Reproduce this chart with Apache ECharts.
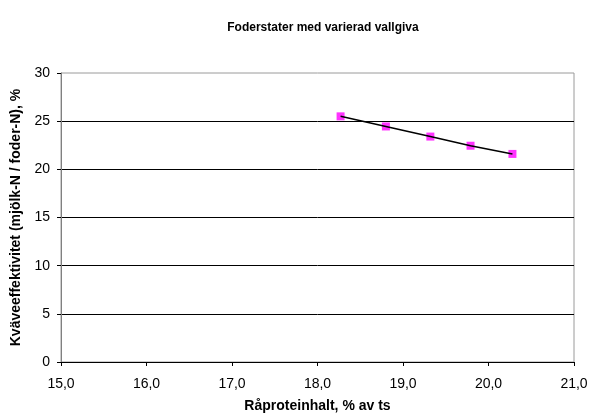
<!DOCTYPE html>
<html>
<head>
<meta charset="utf-8">
<script src="https://cdn.jsdelivr.net/npm/echarts@6/dist/echarts.min.js"></script>
<style>
  html, body { margin: 0; padding: 0; background: #fff; }
  #chart { width: 591px; height: 414px; }
</style>
</head>
<body>
<div id="chart"></div>
<script>
// Crude protein content (% of DM) and nitrogen efficiency (%)
const raprotein = [18.27, 18.80, 19.32, 19.79, 20.28];
const kvaveeffektivitet = [25.5, 24.45, 23.4, 22.45, 21.6];

const chartTitle = 'Foderstater med varierad vallgiva';
const xName = 'Råproteinhalt, % av ts';
const yName = 'Kväveeffektivitet (mjölk-N / foder-N), %';

const points = raprotein.map((x, i) => [x, kvaveeffektivitet[i]]);

const font = '"Liberation Sans", Arial, sans-serif';

const chart = echarts.init(document.getElementById('chart'), null, { renderer: 'canvas' });
chart.setOption({
  animation: false,
  backgroundColor: '#ffffff',
  title: {
    text: chartTitle,
    left: 318,
    textAlign: 'center',
    top: 17,
    textStyle: { fontFamily: font, fontSize: 12, fontWeight: 'bold', color: '#000' }
  },
  grid: {
    left: 61, right: 17, top: 73, bottom: 52,
    containLabel: false,
    outerBoundsMode: 'none',
    show: true, borderColor: '#9a9a9a', borderWidth: 1
  },
  xAxis: {
    type: 'value',
    min: 15, max: 21, interval: 1,
    name: xName,
    nameLocation: 'middle',
    nameGap: 37,
    nameTextStyle: { fontFamily: font, fontSize: 14, fontWeight: 'bold', color: '#000' },
    axisLine: { show: true, onZero: false, lineStyle: { color: '#000', width: 1 } },
    axisTick: { show: true, length: 4, inside: false, lineStyle: { color: '#000' } },
    axisLabel: {
      fontFamily: font, fontSize: 14, color: '#000', margin: 15,
      formatter: v => v.toFixed(1).replace('.', ',')
    },
    splitLine: { show: false }
  },
  yAxis: {
    type: 'value',
    min: 0, max: 30, interval: 5,
    name: yName,
    nameLocation: 'middle',
    nameGap: 37,
    nameTextStyle: { fontFamily: font, fontSize: 14, fontWeight: 'bold', color: '#000' },
    axisLine: { show: true, lineStyle: { color: '#808080', width: 1 } },
    axisTick: { show: true, length: 4, lineStyle: { color: '#000' } },
    axisLabel: { fontFamily: font, fontSize: 14, color: '#000', margin: 11 },
    splitLine: {
      show: true, showMinLine: false, showMaxLine: false,
      lineStyle: { color: '#000', width: 1 }
    }
  },
  series: [
    {
      name: 'punkter',
      type: 'scatter',
      data: points,
      symbol: 'rect',
      symbolSize: 8,
      itemStyle: { color: '#ff00ff' },
      z: 2
    },
    {
      name: 'linje',
      type: 'line',
      data: points,
      showSymbol: false,
      symbol: 'none',
      lineStyle: { color: '#000', width: 1.5 },
      z: 3
    }
  ]
});
</script>
</body>
</html>
